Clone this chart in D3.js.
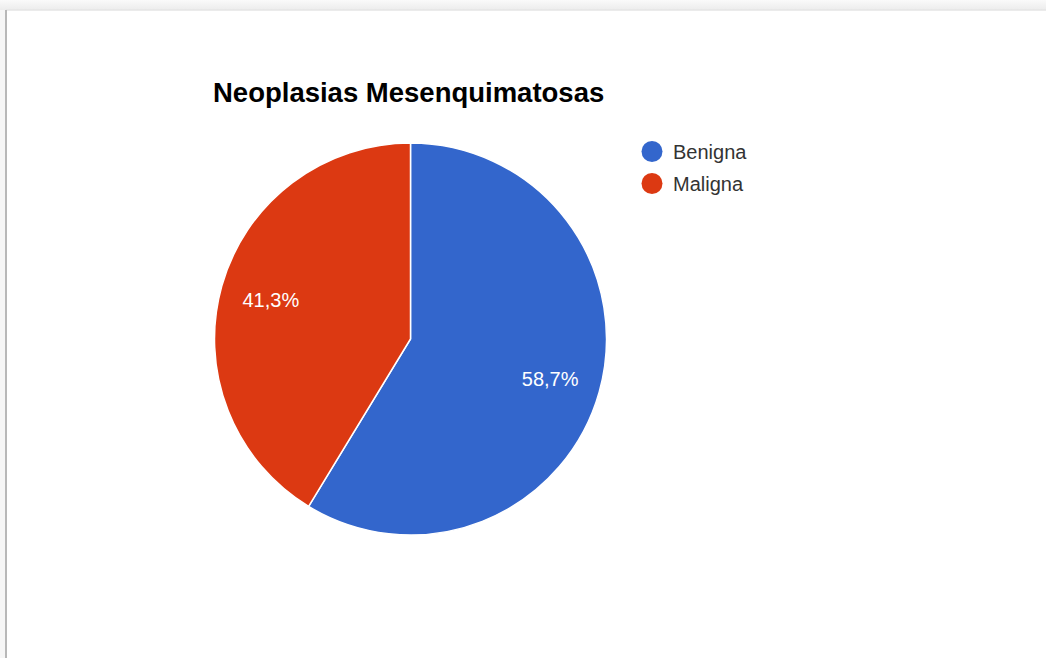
<!DOCTYPE html>
<html>
<head>
<meta charset="utf-8">
<script src="https://cdn.jsdelivr.net/npm/d3@7"></script>
<style>
  html, body { margin: 0; padding: 0; background: #ffffff; }
  svg { display: block; }
</style>
</head>
<body>
<svg id="chart" width="1046" height="658"></svg>
<script>
// Chart data
const title = "Neoplasias Mesenquimatosas";
const categories = ["Benigna", "Maligna"];
const values = [58.7, 41.3];
const colors = ["#3366cc", "#dc3912"];

const svg = d3.select("#chart");
const W = 1046, H = 658;

// Card frame with a soft shadow along the top and a left edge
const defs = svg.append("defs");
const topGrad = defs.append("linearGradient")
  .attr("id", "topShade").attr("x1", 0).attr("y1", 0).attr("x2", 0).attr("y2", 1);
topGrad.append("stop").attr("offset", "0%").attr("stop-color", "#fafafa");
topGrad.append("stop").attr("offset", "100%").attr("stop-color", "#ececec");

svg.append("rect").attr("x", 0).attr("y", 0).attr("width", W).attr("height", 10)
  .attr("fill", "url(#topShade)");
svg.append("rect").attr("x", 0).attr("y", 10).attr("width", 6).attr("height", H - 10)
  .attr("fill", "#f6f6f6");
svg.append("line").attr("x1", 6).attr("x2", W).attr("y1", 10).attr("y2", 10)
  .attr("stroke", "#e4e4e4").attr("stroke-width", 1.5);
svg.append("line").attr("x1", 6).attr("x2", 6).attr("y1", 10).attr("y2", H)
  .attr("stroke", "#b8b8b8").attr("stroke-width", 2);

// Title
svg.append("text")
  .attr("x", 213).attr("y", 102)
  .attr("font-family", "'Liberation Sans', Arial, sans-serif")
  .attr("font-weight", "bold")
  .attr("font-size", 27.5)
  .attr("fill", "#000")
  .text(title);

// Pie
const cx = 410.5, cy = 339, r = 196;
const pie = d3.pie().sort(null).value(d => d)(values);
const arc = d3.arc().innerRadius(0).outerRadius(r);
const labelArc = d3.arc().innerRadius(r * 0.74).outerRadius(r * 0.74);

const g = svg.append("g").attr("transform", `translate(${cx},${cy})`);
g.selectAll("path.slice")
  .data(pie)
  .join("path")
  .attr("class", "slice")
  .attr("d", arc)
  .attr("fill", (d, i) => colors[i])
  .attr("stroke", "#ffffff")
  .attr("stroke-width", 1.5);

const fmt = v => v.toFixed(1).replace(".", ",") + "%";
g.selectAll("text.pct")
  .data(pie)
  .join("text")
  .attr("class", "pct")
  .attr("transform", d => `translate(${labelArc.centroid(d)})`)
  .attr("text-anchor", "middle")
  .attr("dy", "0.38em")
  .attr("font-family", "'Liberation Sans', Arial, sans-serif")
  .attr("font-size", 20)
  .attr("fill", "#ffffff")
  .text(d => fmt(d.data));

// Legend
const legend = svg.append("g").attr("transform", "translate(652,151.5)");
const items = legend.selectAll("g.item")
  .data(categories)
  .join("g")
  .attr("class", "item")
  .attr("transform", (d, i) => `translate(0,${i * 32})`);
items.append("circle").attr("r", 10.5).attr("fill", (d, i) => colors[i]);
items.append("text")
  .attr("x", 21).attr("dy", "0.35em")
  .attr("font-family", "'Liberation Sans', Arial, sans-serif")
  .attr("font-size", 20)
  .attr("fill", "#333333")
  .text(d => d);
</script>
</body>
</html>
